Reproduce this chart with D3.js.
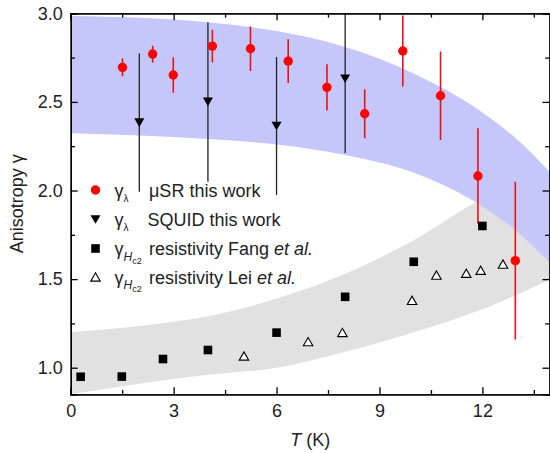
<!DOCTYPE html>
<html><head><meta charset="utf-8">
<script src="https://cdn.jsdelivr.net/npm/d3@7"></script>
<style>
html,body{margin:0;padding:0;background:#fff;}
svg{display:block;font-family:"Liberation Sans",Arial,sans-serif;}
</style></head>
<body>
<svg id="c" width="550" height="453"></svg>
<script>
// ---- data ----
const muT   = [1.51, 2.39, 2.99, 4.13, 5.24, 6.34, 7.47, 8.57, 9.68, 10.78, 11.87, 12.96];
const muG   = [2.695, 2.77, 2.652, 2.815, 2.80, 2.73, 2.582, 2.433, 2.787, 2.535, 2.082, 1.604];
const muErr = [0.05, 0.047, 0.10, 0.092, 0.125, 0.124, 0.13, 0.138, 0.20, 0.25, 0.27, 0.445];

const sqT   = [2.0, 4.0, 6.0, 8.0];
const sqG   = [2.383, 2.50, 2.364, 2.631];
const sqErr = [0.39, 0.45, 0.39, 0.42];

const fangT = [0.29, 1.49, 2.69, 4.0, 6.0, 8.0, 10.0, 12.0];
const fangG = [0.949, 0.95, 1.049, 1.10, 1.198, 1.40, 1.598, 1.80];

const leiT  = [5.05, 6.92, 7.92, 9.95, 10.66, 11.53, 11.95, 12.6];
const leiG  = [1.066, 1.147, 1.199, 1.38, 1.523, 1.533, 1.55, 1.585];

const blueT     = [0, 2, 4, 6, 8, 10, 12, 13, 14];
const blueUpper = [2.985, 2.975, 2.95, 2.90, 2.81, 2.66, 2.44, 2.29, 2.097];
const blueLower = [2.323, 2.31, 2.29, 2.26, 2.20, 2.10, 1.91, 1.77, 1.585];

const grayT     = [0, 2, 4, 6, 8, 10, 12, 14];
const grayUpper = [1.20, 1.235, 1.29, 1.39, 1.53, 1.72, 1.95, 2.08];
const grayLower = [0.85, 0.91, 0.96, 1.00, 1.09, 1.20, 1.33, 1.50];

const xMajor = [0, 3, 6, 9, 12];
const xMinor = [1.5, 4.5, 7.5, 10.5, 13.5];
const yMajor = [1.0, 1.5, 2.0, 2.5, 3.0];
const yMinor = [1.25, 1.75, 2.25, 2.75];

// ---- layout ----
const L = 70.7, R = 551, T = 13.3, B = 394.3;
const x = d3.scaleLinear().domain([0, 14]).range([L, R]);
const y = d3.scaleLinear().domain([0.85, 3.0]).range([B, T]);

const svg = d3.select("#c");
const font = '"Liberation Sans",Arial,sans-serif';
const txtCol = "#222";

svg.append("defs").append("clipPath").attr("id","clip")
  .append("rect").attr("x",L).attr("y",T).attr("width",R-L).attr("height",B-T);

const plot = svg.append("g").attr("clip-path","url(#clip)");

// bands
const grayData = grayT.map((t,i)=>({t, lo:grayLower[i], hi:grayUpper[i]}));
const blueData = blueT.map((t,i)=>({t, lo:blueLower[i], hi:blueUpper[i]}));
const area = d3.area().x(d=>x(d.t)).y0(d=>y(d.lo)).y1(d=>y(d.hi)).curve(d3.curveMonotoneX);
plot.append("path").datum(grayData).attr("d",area).attr("fill","#e1e1e1");
plot.append("path").datum(blueData).attr("d",area).attr("fill","#c5c7fb");

// SQUID error bars
plot.selectAll(".sqe").data(sqT).enter().append("line")
  .attr("x1",(d)=>x(d)).attr("x2",(d)=>x(d))
  .attr("y1",(d,i)=>y(sqG[i]+sqErr[i])).attr("y2",(d,i)=>y(sqG[i]-sqErr[i]))
  .attr("stroke","#222").attr("stroke-width",1.3);

// muSR error bars
plot.selectAll(".mue").data(muT).enter().append("line")
  .attr("x1",(d)=>x(d)).attr("x2",(d)=>x(d))
  .attr("y1",(d,i)=>y(muG[i]+muErr[i])).attr("y2",(d,i)=>y(muG[i]-muErr[i]))
  .attr("stroke","#f01010").attr("stroke-width",1.6);

// symbols
function triDown(cx, cy, w, h){ return `M${cx-w/2},${cy-h/2}L${cx+w/2},${cy-h/2}L${cx},${cy+h/2}Z`; }
function triUp(cx, cy, w, h){ return `M${cx-w/2},${cy+h/2}L${cx+w/2},${cy+h/2}L${cx},${cy-h/2}Z`; }

plot.selectAll(".fang").data(fangT).enter().append("rect")
  .attr("x",(d)=>x(d)-4.3).attr("y",(d,i)=>y(fangG[i])-4.3)
  .attr("width",8.6).attr("height",8.6).attr("fill","#000");

plot.selectAll(".lei").data(leiT).enter().append("path")
  .attr("d",(d,i)=>triUp(x(d), y(leiG[i]), 9.5, 8.3))
  .attr("fill","#fff").attr("stroke","#000").attr("stroke-width",1.1);

plot.selectAll(".sq").data(sqT).enter().append("path")
  .attr("d",(d,i)=>triDown(x(d), y(sqG[i]), 10, 8.6))
  .attr("fill","#000");

plot.selectAll(".mu").data(muT).enter().append("circle")
  .attr("cx",(d)=>x(d)).attr("cy",(d,i)=>y(muG[i])).attr("r",4.7)
  .attr("fill","#ff0000");

// axes
function styleAxis(g){
  g.select(".domain").attr("stroke","#000").attr("stroke-width",1.3);
  g.selectAll(".tick line").attr("stroke","#000").attr("stroke-width",1.3);
  g.selectAll("text").attr("font-family",font).attr("font-size",18).attr("fill",txtCol);
}
const fmt = d3.format(".1f");
svg.append("g").attr("transform",`translate(0,${B})`)
  .call(d3.axisBottom(x).tickValues(xMajor).tickSize(-7).tickPadding(10).tickFormat(d3.format("d")))
  .call(styleAxis);
svg.append("g").attr("transform",`translate(0,${B})`)
  .call(d3.axisBottom(x).tickValues(xMinor).tickSize(-4.3).tickFormat(""))
  .call(styleAxis);
svg.append("g").attr("transform",`translate(0,${T})`)
  .call(d3.axisTop(x).tickValues(xMajor).tickSize(-7).tickFormat(""))
  .call(styleAxis);
svg.append("g").attr("transform",`translate(0,${T})`)
  .call(d3.axisTop(x).tickValues(xMinor).tickSize(-4.3).tickFormat(""))
  .call(styleAxis);
svg.append("g").attr("transform",`translate(${L},0)`)
  .call(d3.axisLeft(y).tickValues(yMajor).tickSize(-7).tickPadding(8).tickFormat(fmt))
  .call(styleAxis);
svg.append("g").attr("transform",`translate(${L},0)`)
  .call(d3.axisLeft(y).tickValues(yMinor).tickSize(-4.3).tickFormat(""))
  .call(styleAxis);
svg.append("g").attr("transform",`translate(${R-1.5},0)`)
  .call(d3.axisRight(y).tickValues(yMajor).tickSize(-7).tickFormat(""))
  .call(styleAxis);
svg.append("g").attr("transform",`translate(${R-1.5},0)`)
  .call(d3.axisRight(y).tickValues(yMinor).tickSize(-4.3).tickFormat(""))
  .call(styleAxis);

// axis titles
const xt = svg.append("text").attr("x",(L+550)/2).attr("y",446)
  .attr("text-anchor","middle").attr("font-family",font).attr("font-size",18).attr("fill",txtCol);
xt.append("tspan").attr("font-style","italic").text("T");
xt.append("tspan").text(" (K)");

svg.append("text").attr("transform",`translate(23,${(T+B)/2}) rotate(-90)`)
  .attr("text-anchor","middle").attr("font-family",font).attr("font-size",18).attr("fill",txtCol)
  .text("Anisotropy γ");

// legend
const legRows = [
  {sym:"circle", sub:"λ", label:[{t:"μSR this work"}], yc:190, tx:149},
  {sym:"tri", sub:"λ", label:[{t:"SQUID this work"}], yc:219.5, tx:147.5},
  {sym:"square", sub:"H", label:[{t:"resistivity Fang "},{t:"et al.",i:true}], yc:248.5, tx:149},
  {sym:"open", sub:"H", label:[{t:"resistivity Lei "},{t:"et al.",i:true}], yc:277, tx:149}
];
const leg = svg.append("g");
legRows.forEach(r=>{
  const sx = 95.5, sy = r.yc;
  if(r.sym==="circle") leg.append("circle").attr("cx",sx).attr("cy",sy).attr("r",4.7).attr("fill","#ff0000");
  if(r.sym==="tri") leg.append("path").attr("d",triDown(sx,sy,10,8.6)).attr("fill","#000");
  if(r.sym==="square") leg.append("rect").attr("x",sx-4.3).attr("y",sy-4.3).attr("width",8.6).attr("height",8.6).attr("fill","#000");
  if(r.sym==="open") leg.append("path").attr("d",triUp(sx,sy,9.5,8.3)).attr("fill","#fff").attr("stroke","#000").attr("stroke-width",1.1);
  const base = sy + 6.5;
  const g = leg.append("text").attr("x",114.5).attr("y",base)
    .attr("font-family",font).attr("font-size",18).attr("fill",txtCol);
  g.append("tspan").text("γ");
  if(r.sub==="λ"){
    g.append("tspan").attr("font-size",10).attr("dy",5).text("λ");
  } else {
    g.append("tspan").attr("font-size",12).attr("font-style","italic").attr("dy",5.5).text("H");
    g.append("tspan").attr("font-size",9).attr("dy",3).text("c2");
  }
  const lt = leg.append("text").attr("x",r.tx).attr("y",base)
    .attr("font-family",font).attr("font-size",18).attr("fill",txtCol);
  r.label.forEach(p=>{ const s = lt.append("tspan").text(p.t); if(p.i) s.attr("font-style","italic"); });
});
</script>
</body></html>
